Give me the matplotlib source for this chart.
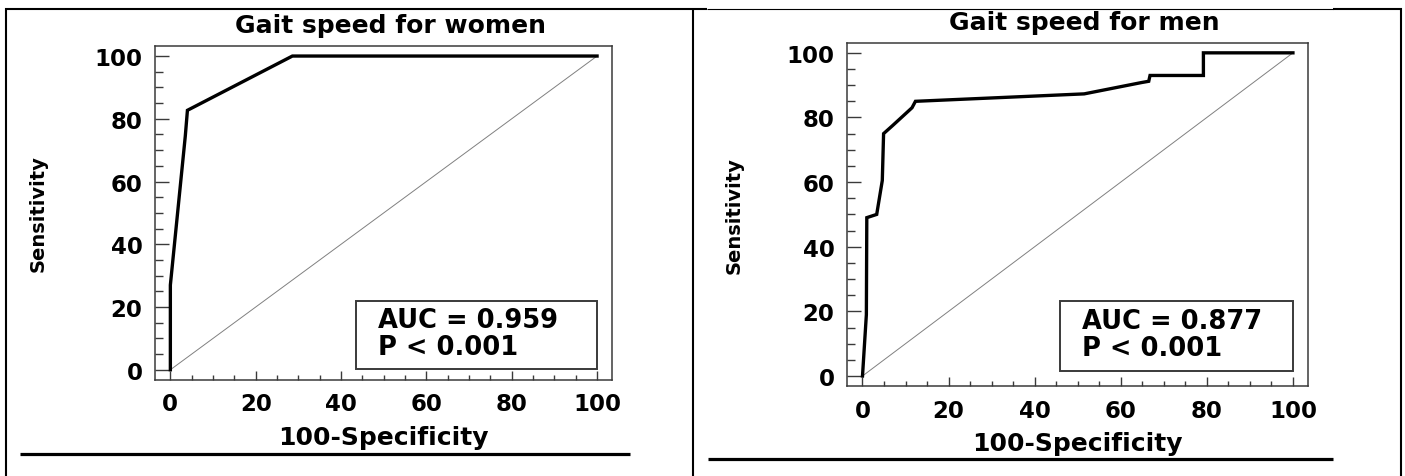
import matplotlib
matplotlib.use("Agg")
import matplotlib.pyplot as plt
from matplotlib.lines import Line2D
from matplotlib.patches import Rectangle
from matplotlib.ticker import MultipleLocator

# ROC curve points (100-specificity, sensitivity)
women_fpr = [0, 0, 3.5, 4.0, 28.6, 100]
women_tpr = [0, 27, 74.5, 82.7, 100, 100]

men_fpr = [0, 0.9, 1.0, 3.3, 4.6, 4.9, 7.0, 11.5, 12.3, 51.5, 64.8, 66.5, 66.8, 79.2, 79.2, 100]
men_tpr = [0, 19, 49, 50, 60.5, 75, 77.5, 83, 85, 87.3, 90.8, 91.2, 93, 93, 100, 100]

titles = ["Gait speed for women", "Gait speed for men"]
auc_values = [0.959, 0.877]
p_labels = ["P < 0.001", "P < 0.001"]

W, H = 1405, 477
_SPINE = "#3a3a3a"

fig = plt.figure(figsize=(W / 100, H / 100), dpi=100, facecolor="white")


def px_rect(left, top, right, bottom):
    return [left / W, 1 - bottom / H, (right - left) / W, (bottom - top) / H]


def hline(x0, x1, y, lw):
    fig.add_artist(Line2D([x0 / W, x1 / W], [1 - y / H, 1 - y / H],
                          color="black", linewidth=lw, solid_capstyle="butt"))


def vline(x, y0, y1, lw):
    fig.add_artist(Line2D([x / W, x / W], [1 - y0 / H, 1 - y1 / H],
                          color="black", linewidth=lw, solid_capstyle="butt"))


def roc_panel(ax, fpr, tpr, title, auc, ptxt, box, ylabel_x):
    ax.plot([0, 100], [0, 100], color="#808080", linewidth=0.7, zorder=2)
    ax.plot(fpr, tpr, color="black", linewidth=2.4, zorder=3,
            solid_joinstyle="miter")
    ax.set_xlim(-3.6, 103.5)
    ax.set_ylim(-3.1, 103.2)

    ax.xaxis.set_major_locator(MultipleLocator(20))
    ax.xaxis.set_minor_locator(MultipleLocator(5))
    ax.yaxis.set_major_locator(MultipleLocator(20))
    ax.yaxis.set_minor_locator(MultipleLocator(5))
    ax.tick_params(axis="x", which="major", direction="in", length=6.5,
                   width=1.0, color=_SPINE, pad=9, labelsize=16.5)
    ax.tick_params(axis="x", which="minor", direction="in", length=3.5,
                   width=1.0, color=_SPINE)
    ax.tick_params(axis="y", which="major", direction="in", length=10,
                   width=1.0, color=_SPINE, pad=9, labelsize=16.5)
    ax.tick_params(axis="y", which="minor", direction="in", length=6,
                   width=1.0, color=_SPINE)
    for lab in ax.get_xticklabels() + ax.get_yticklabels():
        lab.set_fontweight("bold")

    for spine in ax.spines.values():
        spine.set_edgecolor(_SPINE)
        spine.set_linewidth(1.1)

    ax.set_title(title, fontsize=18, fontweight="bold", pad=10, x=0.515)
    ax.set_xlabel("100-Specificity", fontsize=18, fontweight="bold", labelpad=7)
    ax.set_ylabel("Sensitivity", fontsize=14, fontweight="bold")
    ax.yaxis.set_label_coords(ylabel_x, 0.5)

    # AUC / P value box
    bx0, by0, bx1, by1 = box
    ax.add_patch(Rectangle((bx0, by0), bx1 - bx0, by1 - by0, fill=False,
                           edgecolor=_SPINE, linewidth=1.4, zorder=4))
    ax.text(bx0 + 5, by1 - 6.2, f"AUC = {auc:.3f}", fontsize=18.5,
            fontweight="bold", va="center", ha="left", zorder=5)
    ax.text(bx0 + 5, by1 - 14.6, ptxt, fontsize=18.5,
            fontweight="bold", va="center", ha="left", zorder=5)


ax1 = fig.add_axes(px_rect(155, 47, 612, 380.5))
roc_panel(ax1, women_fpr, women_tpr, titles[0], auc_values[0], p_labels[0],
          (43.6, 0.2, 100, 22), (48 - 155) / 457)

ax2 = fig.add_axes(px_rect(847, 43.5, 1308, 387))
roc_panel(ax2, men_fpr, men_tpr, titles[1], auc_values[1], p_labels[1],
          (46, 1.5, 100, 23.2), (744 - 847) / 461)

# table frame around the two panels
hline(5, 707, 10, 1.5)
hline(707, 1333, 9.5, 0.8)
hline(1333, 1402, 10, 1.5)
vline(6, 9, 477, 1.5)
vline(693, 9, 477, 1.5)
vline(1400.5, 9, 477, 1.5)
hline(20, 630, 455, 2.3)
hline(708, 1333, 460, 2.3)

fig.savefig("out.png", dpi=100, facecolor="white")
plt.close(fig)
